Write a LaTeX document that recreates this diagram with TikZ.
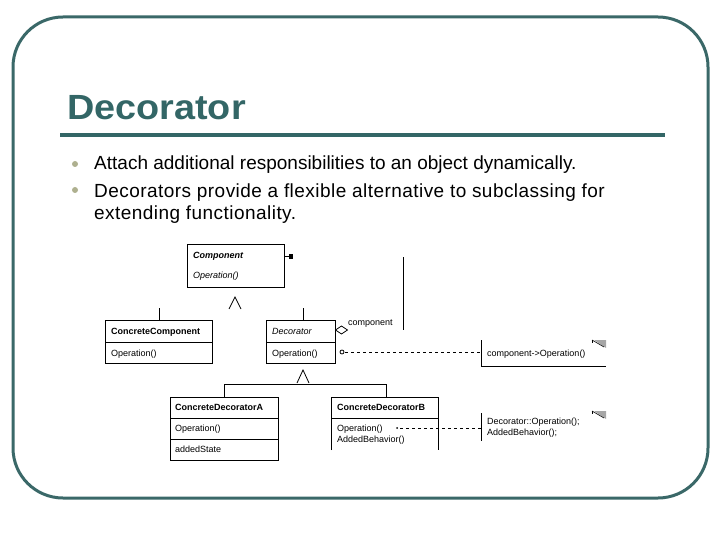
\documentclass[tikz,border=0pt]{standalone}
\usepackage{fontspec}
\setmainfont{Liberation Sans}
\definecolor{frameteal}{HTML}{3A6868}
\definecolor{titleteal}{HTML}{336666}
\definecolor{bulletgray}{HTML}{AEB08F}
\begin{document}
\begin{tikzpicture}[x=1pt,y=-1pt,
  umlbox/.style={draw,line width=0.8pt,rectangle,anchor=north west,inner sep=0pt},
  umltxt/.style={anchor=base west,inner sep=0pt,font=\fontsize{9}{10}\selectfont},
  umlbold/.style={umltxt,font=\fontsize{9}{10}\selectfont\bfseries},
  bullettxt/.style={anchor=base west,inner sep=0pt,font=\fontsize{19}{22}\selectfont},
  widetxt/.style={bullettxt,font=\fontsize{19}{22}\selectfont\addfontfeature{LetterSpace=2.4}},
  umlline/.style={line width=0.8pt},
  dashline/.style={line width=0.8pt,dash pattern=on 3pt off 3pt}]
\useasboundingbox (0,0) rectangle (720,540);
% frame
\draw[frameteal,line width=3pt,rounded corners=50pt] (13,17) rectangle (708,498);
% title
\node[anchor=base west,inner sep=0pt,text=titleteal,font=\fontsize{35}{40}\selectfont\bfseries] (title) at (67,120) {\scalebox{1.08}[1]{Decorator}};
\fill[titleteal] (60,133) rectangle (665,137);
% bullets
\fill[bulletgray] (75,164) circle (3);
\fill[bulletgray] (75,190) circle (3);
\node[bullettxt] (b1) at (94,170) {Attach additional responsibilities to an object dynamically.};
\node[widetxt] (b2) at (94,197) {Decorators provide a flexible alternative to subclassing for};
\node[widetxt] (b3) at (94,219) {extending functionality.};
% Component
\node[umlbox,minimum width=97pt,minimum height=43pt] (comp) at (187,244) {};
\node[umltxt,font=\fontsize{9}{10}\selectfont\bfseries\itshape] (compname) at (193,258.5) {Component};
\node[umltxt,font=\fontsize{9}{10}\selectfont\itshape] (compop) at (193,278.5) {Operation()};
\coordinate (aggtip) at (285,256.5);
\draw[umlline] (aggtip) -- ++(4,0);
\fill (289,254) rectangle (293,259);
\coordinate (vtop) at (403,257);
\coordinate (vbot) at (403,330);
\draw[umlline] (vtop) -- (vbot);
% inheritance triangle 1
\coordinate (t1a) at (229,309);
\coordinate (t1b) at (235,297);
\coordinate (t1c) at (241,309);
\draw[umlline] (t1a) -- (t1b) -- (t1c);
% ConcreteComponent
\node[umlbox,minimum width=107pt,minimum height=43pt] (cc) at (105,320) {};
\draw[umlline] (105,342) -- (212,342);
\node[umlbold] (ccname) at (111,334) {ConcreteComponent};
\node[umltxt] (ccop) at (111,356) {Operation()};
\draw[umlline] (cc.north) -- ++(0,-12);
% Decorator
\node[umlbox,minimum width=69pt,minimum height=43pt] (dec) at (266,320) {};
\draw[umlline] (266,342) -- (335,342);
\node[umltxt,font=\fontsize{9}{10}\selectfont\itshape] (decname) at (272,334) {Decorator};
\node[umltxt] (decop) at (272,356) {Operation()};
\draw[umlline] (303,320) -- (303,308);
% aggregation diamond
\draw[umlline,fill=white] (335.5,330) -- (341.5,326) -- (347.5,330) -- (341.5,334) -- cycle;
\node[umltxt] (complabel) at (348,325) {component};
% note 1
\coordinate (n1top) at (481,340);
\coordinate (n1bl) at (481,366);
\coordinate (n1br) at (606,366);
\draw[umlline] (n1top) -- (n1bl) -- (n1br);
\node[umltxt] (n1txt) at (487,356) {component->Operation()};
\fill[gray!70] (594,340) -- (606,340) -- (606,348) -- cycle;
\draw[line width=0.6pt] (592,340) -- (604,347);
\draw[line width=0.6pt] (592,340) -- (592,343);
\draw[umlline] (342,352) circle (2);
\draw[dashline] (345,352) -- (481,352);
% inheritance triangle 2
\draw[umlline] (297,383) -- (303,370) -- (309,383);
\draw[umlline] (224,397) -- (224,384) -- (386,384) -- (386,397);
% ConcreteDecoratorA
\node[umlbox,minimum width=108pt,minimum height=63pt] (cda) at (170,397) {};
\draw[umlline] (170,418) -- (278,418);
\draw[umlline] (170,439) -- (278,439);
\node[umlbold] (cdaname) at (175,410) {ConcreteDecoratorA};
\node[umltxt] (cdaop) at (175,431) {Operation()};
\node[umltxt] (cdast) at (175,452) {addedState};
% ConcreteDecoratorB (open bottom)
\draw[umlline] (331,450) -- (331,397) -- (438,397) -- (438,450);
\draw[umlline] (331,418) -- (438,418);
\node[umlbold] (cdbname) at (337,410) {ConcreteDecoratorB};
\node[umltxt] (cdbop) at (337,431) {Operation()};
\node[umltxt] (cdbadd) at (337,442) {AddedBehavior()};
% note 2
\draw[umlline] (481,413) -- (481,441);
\node[umltxt] (n2a) at (487,424) {Decorator::Operation();};
\node[umltxt] (n2b) at (487,435) {AddedBehavior();};
\fill[gray!70] (594,411) -- (606,411) -- (606,419) -- cycle;
\draw[line width=0.6pt] (592,411) -- (604,418);
\draw[line width=0.6pt] (592,411) -- (592,414);
\fill (397,428) circle (1);
\draw[dashline] (400,428) -- (481,428);
\end{tikzpicture}
\end{document}
